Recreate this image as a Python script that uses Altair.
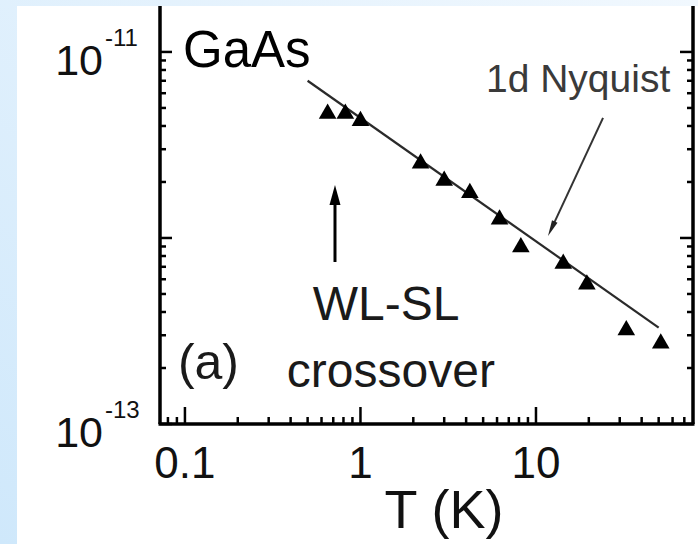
import altair as alt
import pandas as pd

# ---- data ----
T_vals = [0.65, 0.82, 1.0, 2.2, 3.0, 4.2, 6.2, 8.2, 14.3, 19.5, 32.7, 51.4]
tau_vals = [4.8e-12, 4.8e-12, 4.4e-12, 2.6e-12, 2.1e-12, 1.8e-12, 1.3e-12,
            9.2e-13, 7.5e-13, 5.8e-13, 3.3e-13, 2.8e-13]

fit_T = [0.5, 50]
fit_tau = [7.0e-12, 3.3e-13]

x_major = [0.1, 1, 10]
x_major_labels = ["0.1", "1", "10"]
x_minor = [0.08, 0.09, 0.2, 0.3, 0.4, 0.5, 0.6, 0.7, 0.8, 0.9,
           2, 3, 4, 5, 6, 7, 8, 9, 20, 30, 40, 50, 60, 70]
y_major = [1e-13, 1e-12, 1e-11]
y_minor = [2e-13, 3e-13, 4e-13, 5e-13, 6e-13, 7e-13, 8e-13, 9e-13,
           2e-12, 3e-12, 4e-12, 5e-12, 6e-12, 7e-12, 8e-12, 9e-12]
y_label_vals = [1e-13, 1e-11]
y_label_base = ["10", "10"]
y_label_exp = ["-13", "-11"]
x_title = "T (K)"

# annotations (positions in data units)
ann_gaas = {"T": [0.0975], "tau": [8.3e-12], "t": ["GaAs"]}
ann_nyq = {"T": [5.19], "tau": [6.1e-12], "t": ["1d Nyquist"]}
ann_wl = {"T": [1.4, 1.49], "tau": [3.62e-13, 1.58e-13], "t": ["WL-SL", "crossover"]}
ann_a = {"T": [0.0912], "tau": [1.75e-13], "t": ["(a)"]}

arrow_wl_T = [0.716, 0.716]
arrow_wl_tau = [7.43e-13, 1.70e-12]
arrow_nyq_T = [24.1, 12.24]
arrow_nyq_tau = [4.42e-12, 1.12e-12]

W, H = 533, 418
FONT = "Liberation Sans"

xs = alt.Scale(type="log", domain=[0.0721, 78.45], nice=False)
ys = alt.Scale(type="log", domain=[1e-13, 1.766e-11], nice=False)

one = pd.DataFrame({"a": [0]})


def X(f="T"):
    return alt.X(f"{f}:Q", scale=xs, axis=None)


def Y(f="tau"):
    return alt.Y(f"{f}:Q", scale=ys, axis=None)


# background panels
bg = alt.Chart(one).mark_rect(
    color=alt.Gradient(
        gradient="linear",
        stops=[alt.GradientStop(color="#cfe8fb", offset=0),
               alt.GradientStop(color="#f1f8fe", offset=1)],
        x1=0, y1=1, x2=1, y2=0),
).encode(x=alt.value(-160), x2=alt.value(W + 5), y=alt.value(-6), y2=alt.value(H + 120))

white = alt.Chart(one).mark_rect(color="white").encode(
    x=alt.value(-143), x2=alt.value(W + 5), y=alt.value(0), y2=alt.value(H + 120))


def vdf(v, lab=None):
    d = {"v": v}
    if lab is not None:
        d["lab"] = lab
    return pd.DataFrame(d)


# frame lines (left, bottom, right)
frame_style = dict(color="black", strokeWidth=3.5)
left_line = alt.Chart(one).mark_rule(**frame_style).encode(
    x=alt.value(0), y=alt.value(0), y2=alt.value(H))
bottom_line = alt.Chart(one).mark_rule(**frame_style).encode(
    x=alt.value(-1.5), x2=alt.value(W + 1.5), y=alt.value(H))
right_line = alt.Chart(one).mark_rule(**frame_style).encode(
    x=alt.value(W), y=alt.value(0), y2=alt.value(H))

# ticks drawn inward
tick_style = dict(color="black", strokeWidth=2.5)
yl_maj = alt.Chart(vdf(y_major)).mark_rule(**tick_style).encode(
    y=Y("v"), x=alt.value(0), x2=alt.value(12))
yl_min = alt.Chart(vdf(y_minor)).mark_rule(**tick_style).encode(
    y=Y("v"), x=alt.value(0), x2=alt.value(6))
yr_maj = alt.Chart(vdf(y_major)).mark_rule(**tick_style).encode(
    y=Y("v"), x=alt.value(W - 13), x2=alt.value(W))
yr_min = alt.Chart(vdf(y_minor)).mark_rule(**tick_style).encode(
    y=Y("v"), x=alt.value(W - 6), x2=alt.value(W))
xb_maj = alt.Chart(vdf(x_major)).mark_rule(**tick_style).encode(
    x=X("v"), y=alt.value(H), y2=alt.value(H - 17))
xb_min = alt.Chart(vdf(x_minor)).mark_rule(**tick_style).encode(
    x=X("v"), y=alt.value(H), y2=alt.value(H - 7))

# tick labels
xlab = alt.Chart(vdf(x_major, x_major_labels)).mark_text(
    font=FONT, fontSize=44, align="center", baseline="alphabetic", dy=54, color="#111"
).encode(x=X("v"), y=alt.value(H), text="lab:N")

ylab_df = pd.DataFrame({"v": y_label_vals, "b": y_label_base, "e": y_label_exp})
ylab = alt.Chart(ylab_df).mark_text(
    font=FONT, fontSize=43, align="right", baseline="alphabetic", dy=23, color="#111"
).encode(y=Y("v"), x=alt.value(-57), text="b:N")
yexp = alt.Chart(ylab_df).mark_text(
    font=FONT, fontSize=24, align="left", baseline="alphabetic", dy=-6, color="#111"
).encode(y=Y("v"), x=alt.value(-55), text="e:N")

xtitle = alt.Chart(pd.DataFrame({"t": [x_title]})).mark_text(
    font=FONT, fontSize=54, align="center", baseline="alphabetic", color="#111"
).encode(x=alt.value(284), y=alt.value(H + 104), text="t:N")

# fit line
fit = alt.Chart(pd.DataFrame({"T": fit_T, "tau": fit_tau})).mark_line(
    color="#2a2a2a", strokeWidth=2.2
).encode(x=X(), y=Y())

# data points
pts = alt.Chart(pd.DataFrame({"T": T_vals, "tau": tau_vals})).mark_point(
    shape="triangle-up", filled=True, size=310, color="black", opacity=1
).encode(x=X(), y=Y())

# arrows
arr_wl = alt.Chart(pd.DataFrame({"T": arrow_wl_T, "tau": arrow_wl_tau})).mark_line(
    color="black", strokeWidth=3).encode(x=X(), y=Y())
arr_wl_head = alt.Chart(pd.DataFrame({"T": arrow_wl_T[1:], "tau": arrow_wl_tau[1:]})).mark_point(
    shape="M0,-1L-0.55,1L0.55,1Z", filled=True, size=400, color="black", opacity=1
).encode(x=X(), y=Y())

arr_nyq = alt.Chart(pd.DataFrame({"T": arrow_nyq_T, "tau": arrow_nyq_tau})).mark_line(
    color="#333", strokeWidth=2).encode(x=X(), y=Y())
arr_nyq_head = alt.Chart(pd.DataFrame({"T": arrow_nyq_T[1:], "tau": arrow_nyq_tau[1:]})).mark_point(
    shape="M0,1L-0.38,-1L0.38,-1Z", filled=True, size=256, angle=25, color="#222", opacity=1
).encode(x=X(), y=Y())


def txt(d, size, align, color="#111"):
    return alt.Chart(pd.DataFrame(d)).mark_text(
        font=FONT, fontSize=size, align=align, baseline="alphabetic", color=color
    ).encode(x=X(), y=Y(), text="t:N")


t_gaas = txt(ann_gaas, 51, "left", "#000")
t_nyq = txt(ann_nyq, 39, "left", "#3a3a3a")
t_wl = txt(ann_wl, 48, "center", "#1a1a1a")
t_a = txt(ann_a, 50, "left", "#1a1a1a")

chart = alt.layer(
    bg, white, fit, pts, yl_maj, yl_min, yr_maj, yr_min, xb_maj, xb_min,
    left_line, bottom_line, right_line,
    xlab, ylab, yexp, xtitle, arr_wl, arr_wl_head, arr_nyq, arr_nyq_head,
    t_gaas, t_nyq, t_wl, t_a,
).properties(
    width=W, height=H,
    padding={"left": 160, "top": 6, "right": 5, "bottom": 120},
    autosize=alt.AutoSizeParams(type="none"),
).configure_view(stroke=None).configure(background="white")

chart.save("out.html", embed_options={"renderer": "svg", "actions": False})
